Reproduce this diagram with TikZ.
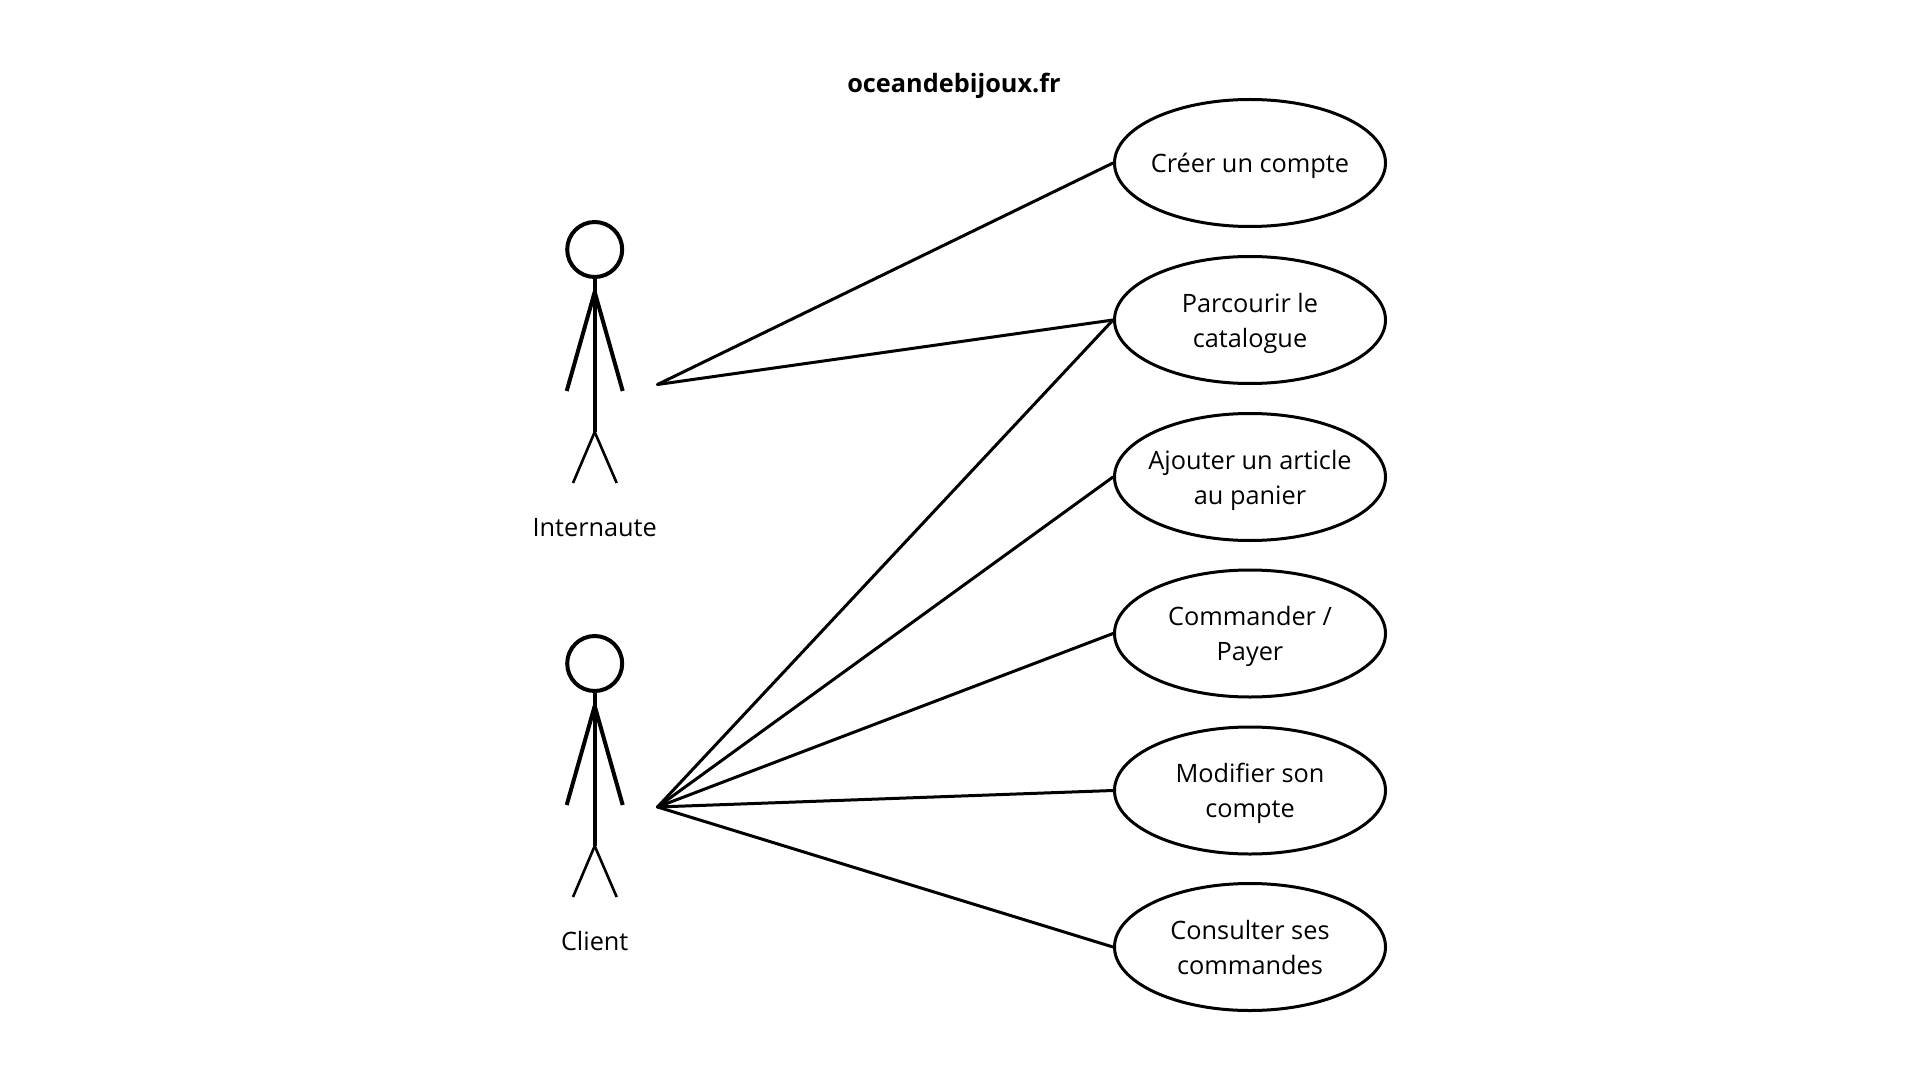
\documentclass[tikz,border=0pt]{standalone}
\usepackage{fontspec}
\setmainfont{Open Sans}
\usetikzlibrary{shapes.geometric}
\newcommand{\uctext}[1]{\raisebox{0pt}[\dimexpr\height+2.6pt\relax]{\begin{tabular}{@{}c@{}}#1\end{tabular}}}
\tikzset{
  uc/.style={ellipse,draw=black,line width=1.5pt,fill=white,minimum width=135.5pt,minimum height=63.5pt,inner sep=-25pt,font=\fontsize{12.65}{17.6}\selectfont},
  lbl/.style={inner sep=0pt,font=\fontsize{12.65}{17.6}\selectfont},
  ttl/.style={inner sep=0pt,font=\fontsize{12.65}{17.6}\selectfont\bfseries},
  conn/.style={draw=black,line width=1.5pt,line cap=round},
  headc/.style={circle,draw=black,line width=2pt,minimum size=27.5pt,inner sep=0pt},
  bodyl/.style={draw=black,line width=1.8pt},
  arml/.style={draw=black,line width=2pt},
  legl/.style={draw=black,line width=1.3pt},
}
\begin{document}
\begin{tikzpicture}[x=0.5pt,y=-0.5pt]
\useasboundingbox (0,0) rectangle (1920,1080);
\fill[white] (0,0) rectangle (1920,1080);
\node[ttl] (title) at (954,85.5) {oceandebijoux.fr};
\node[uc] (u1) at (1250,163) {\uctext{Créer un compte}};
\node[uc] (u2) at (1250,320) {\uctext{Parcourir le\\catalogue}};
\node[uc] (u3) at (1250,477) {\uctext{Ajouter un article\\au panier}};
\node[uc] (u4) at (1250,633.5) {\uctext{Commander /\\Payer}};
\node[uc] (u5) at (1250,790.5) {\uctext{Modifier son\\compte}};
\node[uc] (u6) at (1250,947) {\uctext{Consulter ses\\commandes}};
% actor 1
\node[headc] (h1) at (594.7,249.5) {};
\coordinate (s1) at (594.7,292);
\coordinate (b1) at (594.7,432);
\coordinate (al1) at (566.7,391);
\coordinate (ar1) at (622.7,391);
\coordinate (ll1) at (573,483);
\coordinate (lr1) at (616.7,483);
\draw[bodyl] (h1.south) -- (b1);
\draw[arml] (s1) -- (al1);
\draw[arml] (s1) -- (ar1);
\draw[legl] (b1) -- (ll1);
\draw[legl] (b1) -- (lr1);
\node[lbl] (n1) at (594.7,527.5) {Internaute};
% actor 2
\node[headc] (h2) at (594.7,663.5) {};
\coordinate (s2) at (594.7,706);
\coordinate (b2) at (594.7,846);
\coordinate (al2) at (566.7,805);
\coordinate (ar2) at (622.7,805);
\coordinate (ll2) at (573,897);
\coordinate (lr2) at (616.7,897);
\draw[bodyl] (h2.south) -- (b2);
\draw[arml] (s2) -- (al2);
\draw[arml] (s2) -- (ar2);
\draw[legl] (b2) -- (ll2);
\draw[legl] (b2) -- (lr2);
\node[lbl] (n2) at (594.7,941) {Client};
% connectors
\coordinate (p1) at (657.5,384.5);
\coordinate (p2) at (657.5,807);
\draw[conn] (p1) -- (u1.west);
\draw[conn] (p1) -- (u2.west);
\draw[conn] (p2) -- (u2.west);
\draw[conn] (p2) -- (u3.west);
\draw[conn] (p2) -- (u4.west);
\draw[conn] (p2) -- (u5.west);
\draw[conn] (p2) -- (u6.west);
\end{tikzpicture}
\end{document}
